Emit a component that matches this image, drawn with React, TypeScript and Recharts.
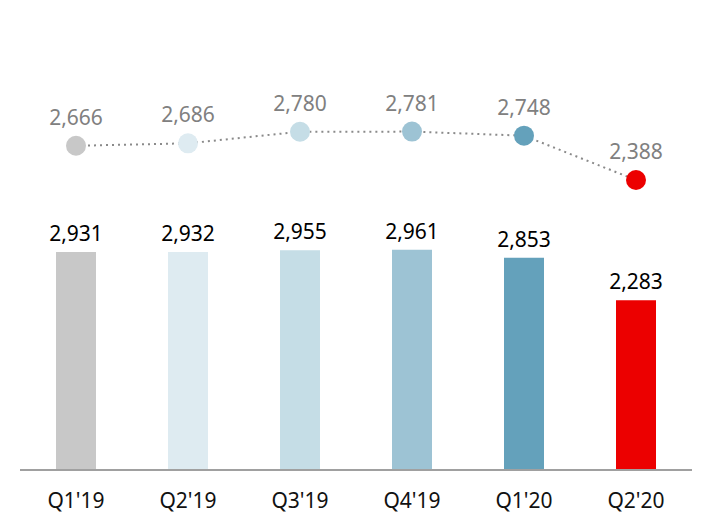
import { ComposedChart, Bar, Line, XAxis, YAxis, LabelList, Cell } from "recharts"

const quarters = ["Q1'19", "Q2'19", "Q3'19", "Q4'19", "Q1'20", "Q2'20"]
const barValues = [2931, 2932, 2955, 2961, 2853, 2283]
const lineValues = [2666, 2686, 2780, 2781, 2748, 2388]
const COLORS = ["#c8c8c8", "#deebf1", "#c5dde6", "#9dc3d4", "#64a1bb", "#ec0000"]

const data = quarters.map((q, i) => ({ q, bar: barValues[i], line: lineValues[i] }))

const fmt = (v: any) => Number(v).toLocaleString("en-US")

const FONT = "'Noto Sans', 'Open Sans', sans-serif"

function Dot(props: any) {
    const { cx, cy, index } = props
    if (cx == null || cy == null) return null
    return <circle cx={cx} cy={cy} r={10} fill={COLORS[index % COLORS.length]} stroke="none" />
}

export default function App() {
    return (
        <div style={{ position: "absolute", left: 0, top: 0, width: 714, height: 530, background: "#fff" }}>
            <ComposedChart
                width={714}
                height={530}
                data={data}
                margin={{ top: 20, right: 22, left: 20, bottom: 0 }}
                style={{ fontFamily: FONT }}
            >
                <XAxis
                    dataKey="q"
                    height={60}
                    tickLine={false}
                    tickSize={0}
                    tickMargin={23}
                    stroke="#a0a0a0"
                    strokeWidth={2}
                    tick={{ fill: "#111", fontSize: 21, fontFamily: FONT }}
                />
                <YAxis yAxisId="bar" hide domain={[0, 6050]} />
                <YAxis yAxisId="line" hide domain={[34, 3687]} />
                <Bar yAxisId="bar" dataKey="bar" barSize={40} isAnimationActive={false}>
                    {data.map((_, i) => (
                        <Cell key={i} fill={COLORS[i]} />
                    ))}
                    <LabelList
                        dataKey="bar"
                        position="top"
                        offset={11}
                        formatter={fmt}
                        style={{ fill: "#000", fontSize: 21, fontFamily: FONT }}
                    />
                </Bar>
                <Line
                    yAxisId="line"
                    dataKey="line"
                    stroke="#8a8a8a"
                    strokeWidth={2}
                    strokeDasharray="2 4"
                    type="linear"
                    dot={<Dot />}
                    activeDot={false}
                    isAnimationActive={false}
                >
                    <LabelList
                        dataKey="line"
                        position="top"
                        offset={21}
                        formatter={fmt}
                        style={{ fill: "#808080", fontSize: 21, fontFamily: FONT }}
                    />
                </Line>
            </ComposedChart>
        </div>
    )
}
